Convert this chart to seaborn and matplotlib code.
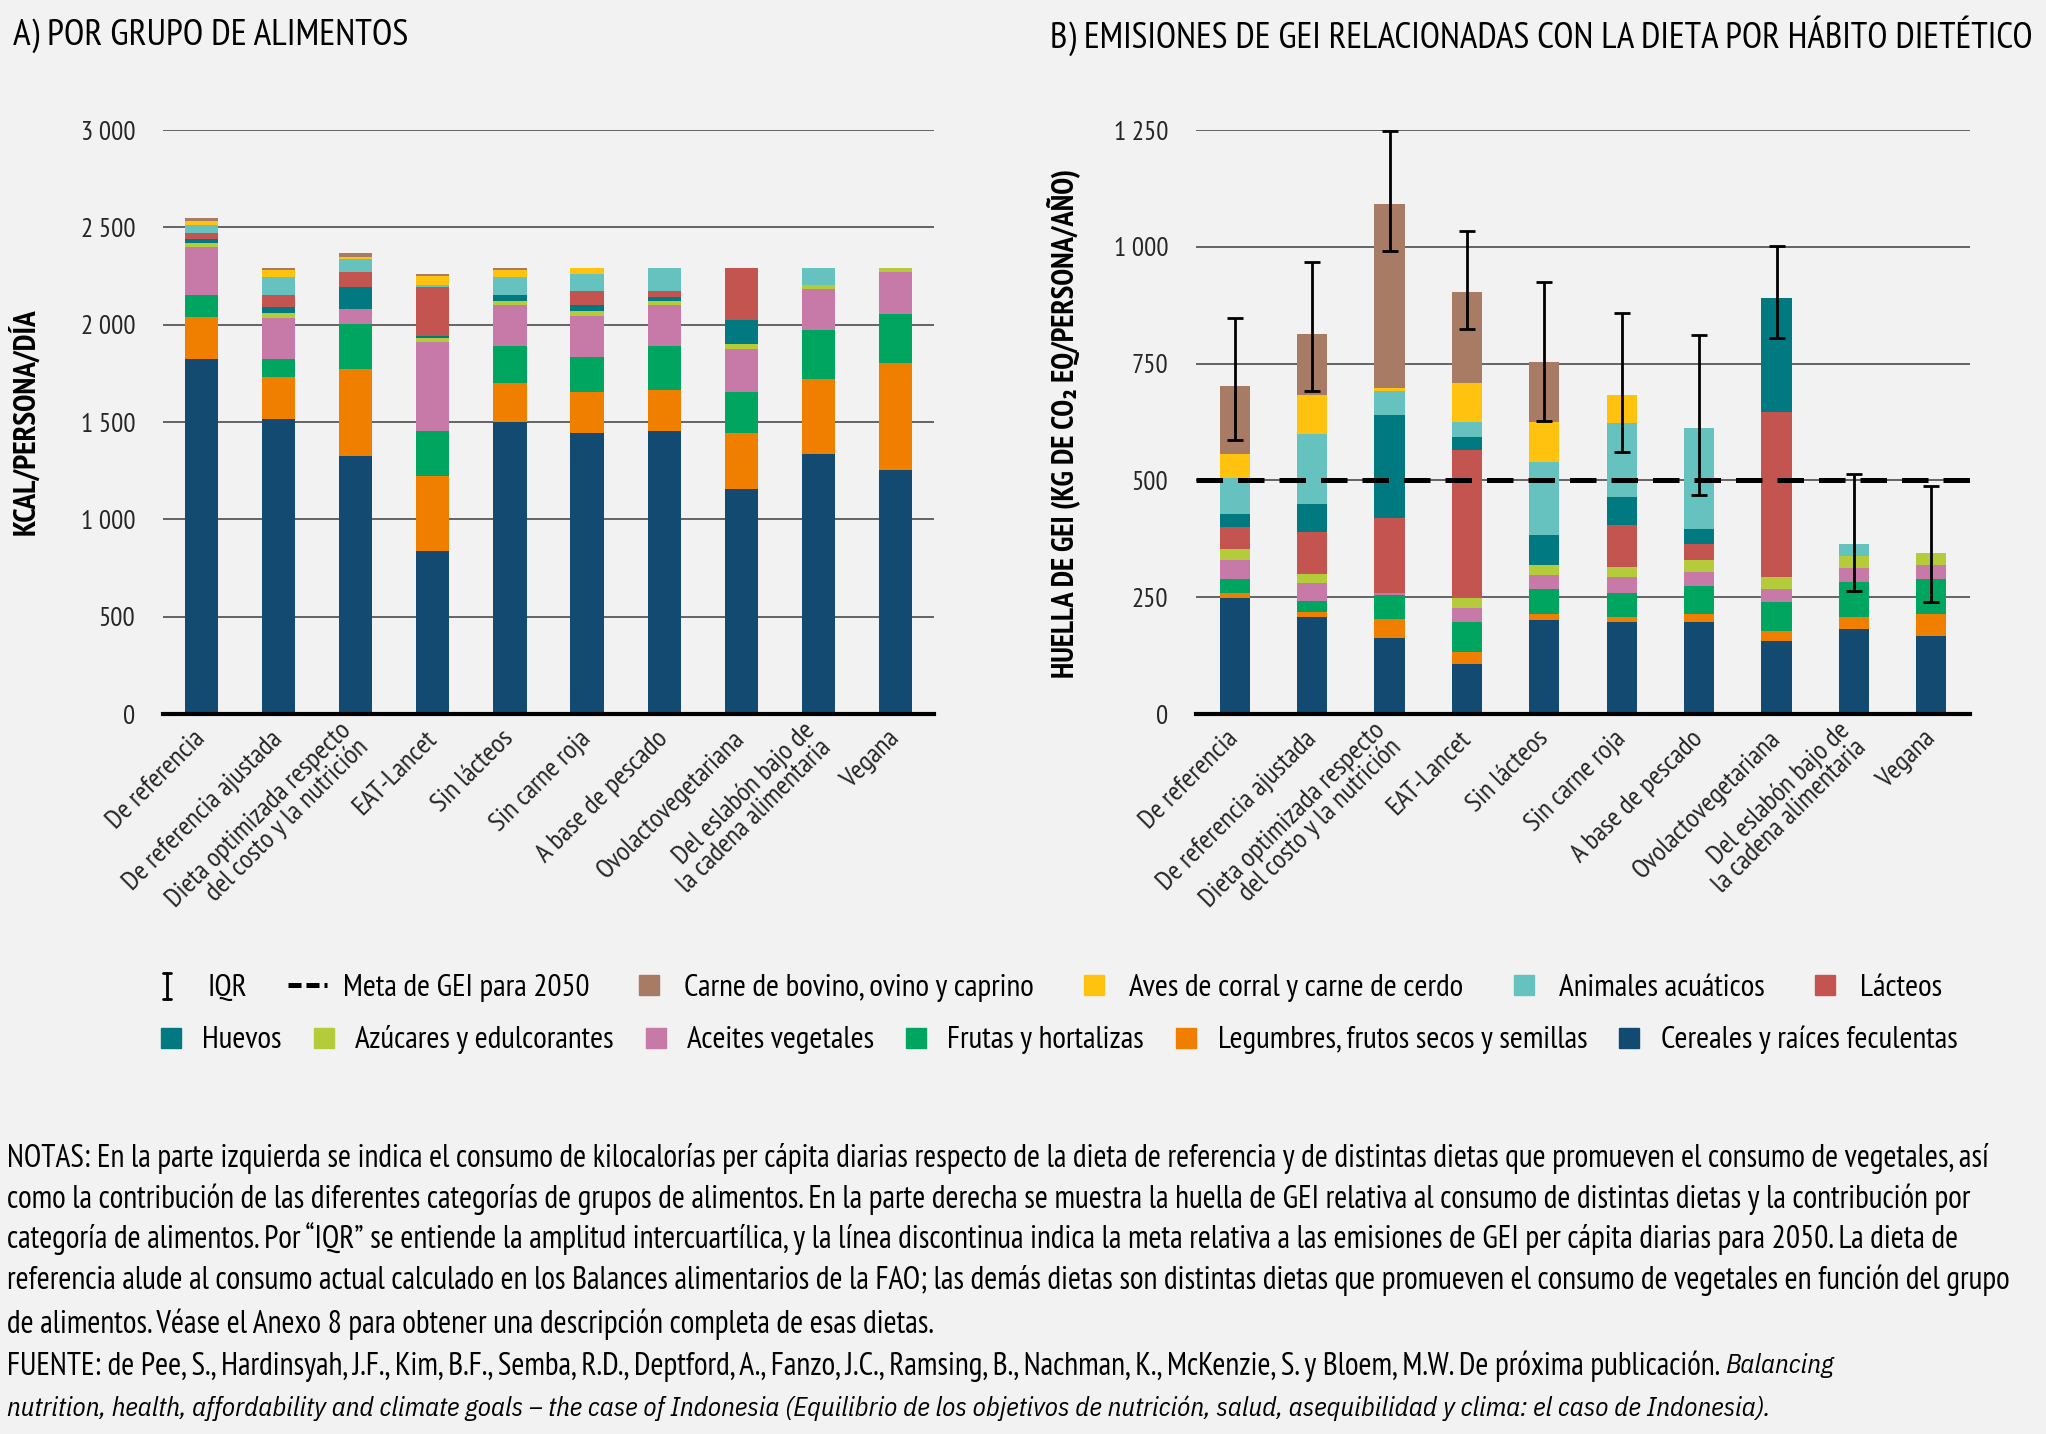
import matplotlib
matplotlib.use('Agg')
import matplotlib.pyplot as plt
import seaborn as sns
import numpy as np
import pandas as pd
from matplotlib.ticker import FuncFormatter, MultipleLocator
from matplotlib.lines import Line2D
from matplotlib.legend_handler import HandlerBase

# dietas (eje x de los dos paneles)
dietas = ['De referencia', 'De referencia ajustada',
          'Dieta optimizada respecto\ndel costo y la nutrición', 'EAT-Lancet',
          'Sin lácteos', 'Sin carne roja', 'A base de pescado', 'Ovolactovegetariana',
          'Del eslabón bajo de\nla cadena alimentaria', 'Vegana']

# A) kcal/persona/día por grupo de alimentos
kcal_cereales = [1825, 1517, 1327, 839, 1498, 1442, 1454, 1158, 1337, 1252]
kcal_legumbres = [213, 214, 445, 382, 202, 214, 212, 285, 384, 551]
kcal_frutas = [116, 94, 233, 231, 189, 180, 223, 213, 252, 254]
kcal_aceites = [243, 211, 75, 457, 212, 210, 210, 221, 212, 214]
kcal_azucares = [23, 24, 0, 23, 22, 22, 24, 22, 19, 20]
kcal_huevos = [18, 29, 115, 8, 31, 31, 21, 127, 0, 0]
kcal_lacteos = [33, 65, 76, 255, 0, 76, 31, 265, 0, 0]
kcal_acuaticos = [43, 93, 65, 10, 93, 84, 116, 0, 87, 0]
kcal_aves = [20, 36, 10, 43, 36, 32, 0, 0, 0, 0]
kcal_carne = [14, 10, 22, 12, 8, 0, 0, 0, 0, 0]

# B) huella de GEI (kg CO2 eq/persona/año)
gei_cereales = [248, 208, 162, 108, 202, 197, 197, 157, 182, 167]
gei_legumbres = [10, 10, 41, 24, 12, 11, 17, 20, 26, 47]
gei_frutas = [30, 24, 51, 65, 54, 50, 59, 62, 75, 74]
gei_aceites = [41, 38, 4, 30, 30, 36, 30, 29, 30, 31]
gei_azucares = [25, 19, 0, 22, 21, 20, 27, 26, 26, 26]
gei_lacteos = [47, 90, 162, 317, 0, 90, 34, 353, 0, 0]
gei_huevos = [28, 61, 221, 26, 65, 61, 31, 243, 0, 0]
gei_acuaticos = [76, 150, 51, 34, 156, 157, 217, 0, 25, 0]
gei_aves = [51, 82, 5, 82, 86, 60, 0, 0, 0, 0]
gei_carne = [147, 132, 394, 195, 127, 0, 0, 0, 0, 0]
iqr_bajo = [586, 692, 992, 825, 627, 561, 468, 804, 264, 239]
iqr_alto = [847, 968, 1247, 1033, 925, 858, 811, 1001, 513, 487]
meta_2050 = 500

colores = {
    'Carne de bovino, ovino y caprino': '#A87B64',
    'Aves de corral y carne de cerdo': '#FFC20E',
    'Animales acuáticos': '#66C2BF',
    'Lácteos': '#C4544F',
    'Huevos': '#007A80',
    'Azúcares y edulcorantes': '#B5CC3A',
    'Aceites vegetales': '#C77AA8',
    'Frutas y hortalizas': '#00A65F',
    'Legumbres, frutos secos y semillas': '#F07F00',
    'Cereales y raíces feculentas': '#134A72',
}

capas_a = [('Cereales y raíces feculentas', kcal_cereales),
           ('Legumbres, frutos secos y semillas', kcal_legumbres),
           ('Frutas y hortalizas', kcal_frutas),
           ('Aceites vegetales', kcal_aceites),
           ('Azúcares y edulcorantes', kcal_azucares),
           ('Huevos', kcal_huevos),
           ('Lácteos', kcal_lacteos),
           ('Animales acuáticos', kcal_acuaticos),
           ('Aves de corral y carne de cerdo', kcal_aves),
           ('Carne de bovino, ovino y caprino', kcal_carne)]

# en el panel B lácteos va debajo de huevos
capas_b = [('Cereales y raíces feculentas', gei_cereales),
           ('Legumbres, frutos secos y semillas', gei_legumbres),
           ('Frutas y hortalizas', gei_frutas),
           ('Aceites vegetales', gei_aceites),
           ('Azúcares y edulcorantes', gei_azucares),
           ('Lácteos', gei_lacteos),
           ('Huevos', gei_huevos),
           ('Animales acuáticos', gei_acuaticos),
           ('Aves de corral y carne de cerdo', gei_aves),
           ('Carne de bovino, ovino y caprino', gei_carne)]

BG = '#F2F2F2'
sns.set_style('whitegrid', {'axes.facecolor': BG, 'figure.facecolor': BG,
                            'grid.color': '#595959'})
plt.rcParams['font.family'] = ['PT Sans Narrow', 'DejaVu Sans']
plt.rcParams['text.color'] = 'black'
ITAL = ['IBM Plex Sans Condensed', 'DejaVu Sans']

fig = plt.figure(figsize=(20.46, 14.34), dpi=100)
fig.patch.set_facecolor(BG)

W, H = 2046, 1434
axA = fig.add_axes([163 / W, 1 - 714 / H, (934 - 163) / W, (714 - 130) / H])
axB = fig.add_axes([1196 / W, 1 - 714 / H, (1970 - 1196) / W, (714 - 130) / H])


def apilar(ax, capas, ancho):
    base = np.zeros(len(dietas))
    for nombre, valores in capas:
        df = pd.DataFrame({'dieta': dietas, 'valor': valores})
        sns.barplot(data=df, x='dieta', y='valor', order=dietas, color=colores[nombre],
                    saturation=1, width=ancho, bottom=base, errorbar=None,
                    linewidth=0, ax=ax, zorder=2)
        base = base + np.array(valores)


apilar(axA, capas_a, 0.43)
apilar(axB, capas_b, 0.39)

# IQR y meta
x = np.arange(len(dietas))
axB.errorbar(x, iqr_bajo, yerr=[np.zeros(len(x)), np.array(iqr_alto) - np.array(iqr_bajo)],
             fmt='none', ecolor='black', elinewidth=2, capsize=6, capthick=2, zorder=5)
axB.axhline(meta_2050, color='black', lw=3.6, dashes=(5.3, 3.0), zorder=6)

miles = FuncFormatter(lambda v, p: f'{int(v):,}'.replace(',', ' '))
for ax, top, paso in [(axA, 3000, 500), (axB, 1250, 250)]:
    ax.set_ylim(0, top)
    ax.set_xlim(-0.5, len(dietas) - 0.5)
    ax.yaxis.set_major_locator(MultipleLocator(paso))
    ax.yaxis.set_major_formatter(miles)
    ax.set_axisbelow(True)
    ax.grid(axis='y', color='#595959', lw=1.3)
    ax.grid(axis='x', visible=False)
    for s in ['left', 'right', 'top']:
        ax.spines[s].set_visible(False)
    ax.spines['bottom'].set_color('black')
    ax.spines['bottom'].set_linewidth(3)
    ax.spines['bottom'].set_zorder(7)
    ax.tick_params(axis='y', length=0, pad=20, labelsize=19.5)
    ax.tick_params(axis='x', length=0, pad=15, labelsize=20)
    ax.set_xticks(x)
    ax.set_xticklabels(dietas, rotation=45, ha='right', va='center',
                       rotation_mode='anchor', multialignment='right', linespacing=0.95)
    ax.set_xlabel('')
    ax.set_ylabel('')

# titulos y ejes
fig.text(13 / W, 1 - 36 / H, 'A) POR GRUPO DE ALIMENTOS', fontsize=26.8, va='center', ha='left')
fig.text(1050 / W, 1 - 36 / H, 'B) EMISIONES DE GEI RELACIONADAS CON LA DIETA POR HÁBITO DIETÉTICO',
         fontsize=26.6, va='center', ha='left')
fig.text(25 / W, 1 - 422 / H, 'KCAL/PERSONA/DÍA', rotation=90, fontsize=22.5,
         fontweight='bold', va='center', ha='center')
fig.text(1063 / W, 1 - 423 / H, 'HUELLA DE GEI (KG DE CO₂ EQ/PERSONA/AÑO)', rotation=90,
         fontsize=22, fontweight='bold', va='center', ha='center')


# simbolo de IQR para la leyenda
class HandlerIQR(HandlerBase):
    def create_artists(self, legend, orig_handle, xdescent, ydescent, width, height,
                       fontsize, trans):
        cx = -xdescent + width * 0.35
        y0 = -ydescent - height * 0.15
        y1 = -ydescent + height * 1.05
        c = width * 0.1
        kw = dict(color='black', lw=2, transform=trans)
        return [Line2D([cx, cx], [y0, y1], **kw),
                Line2D([cx - c, cx + c], [y0, y0], **kw),
                Line2D([cx - c, cx + c], [y1, y1], **kw)]


def cuadro(c):
    return Line2D([], [], marker='s', markersize=15, color=c, linestyle='none')


iqr_h = Line2D([], [])
fila1 = [iqr_h, Line2D([], [], color='black', lw=3.6, dashes=(2.6, 1.0))]
etq1 = ['IQR', 'Meta de GEI para 2050']
for n in ['Carne de bovino, ovino y caprino', 'Aves de corral y carne de cerdo',
          'Animales acuáticos', 'Lácteos']:
    fila1.append(cuadro(colores[n]))
    etq1.append(n)
fila2, etq2 = [], []
for n in ['Huevos', 'Azúcares y edulcorantes', 'Aceites vegetales', 'Frutas y hortalizas',
          'Legumbres, frutos secos y semillas', 'Cereales y raíces feculentas']:
    fila2.append(cuadro(colores[n]))
    etq2.append(n)

fig.legend(fila1, etq1, loc='center', bbox_to_anchor=(0.512, 1 - 988 / H), ncol=6,
           frameon=False, fontsize=22.5, handlelength=1.25, handletextpad=0.5,
           columnspacing=1.3, handler_map={iqr_h: HandlerIQR()})
fig.legend(fila2, etq2, loc='center', bbox_to_anchor=(0.517, 1 - 1040 / H), ncol=6,
           frameon=False, fontsize=22.5, handlelength=0.8, handletextpad=0.6,
           columnspacing=0.95)

# notas
notas = [
    'NOTAS: En la parte izquierda se indica el consumo de kilocalorías per cápita diarias respecto de la dieta de referencia y de distintas dietas que promueven el consumo de vegetales, así',
    'como la contribución de las diferentes categorías de grupos de alimentos. En la parte derecha se muestra la huella de GEI relativa al consumo de distintas dietas y la contribución por',
    'categoría de alimentos. Por “IQR” se entiende la amplitud intercuartílica, y la línea discontinua indica la meta relativa a las emisiones de GEI per cápita diarias para 2050. La dieta de',
    'referencia alude al consumo actual calculado en los Balances alimentarios de la FAO; las demás dietas son distintas dietas que promueven el consumo de vegetales en función del grupo',
    'de alimentos. Véase el Anexo 8 para obtener una descripción completa de esas dietas.',
]
ys = [1158, 1199, 1239, 1280, 1324]
for t, yy in zip(notas, ys):
    fig.text(7 / W, 1 - yy / H, t, fontsize=22.7, va='center', ha='left')

fuente = ('FUENTE: de Pee, S., Hardinsyah, J.F., Kim, B.F., Semba, R.D., Deptford, A., Fanzo, J.C., '
          'Ramsing, B., Nachman, K., McKenzie, S. y Bloem, M.W. De próxima publicación. ')
t6 = fig.text(7 / W, 1 - 1366 / H, fuente, fontsize=22.7, va='center', ha='left')
rend = fig.canvas.get_renderer()
bb = t6.get_window_extent(renderer=rend)
fig.text(bb.x1 / W, 1 - 1366 / H, 'Balancing', fontsize=19.4, va='center', ha='left',
         style='italic', family=ITAL)
fig.text(7 / W, 1 - 1408 / H,
         'nutrition, health, affordability and climate goals – the case of Indonesia '
         '(Equilibrio de los objetivos de nutrición, salud, asequibilidad y clima: el caso de Indonesia).',
         fontsize=19.4, va='center', ha='left', style='italic', family=ITAL)

fig.savefig('out.png', dpi=100, facecolor=BG)
